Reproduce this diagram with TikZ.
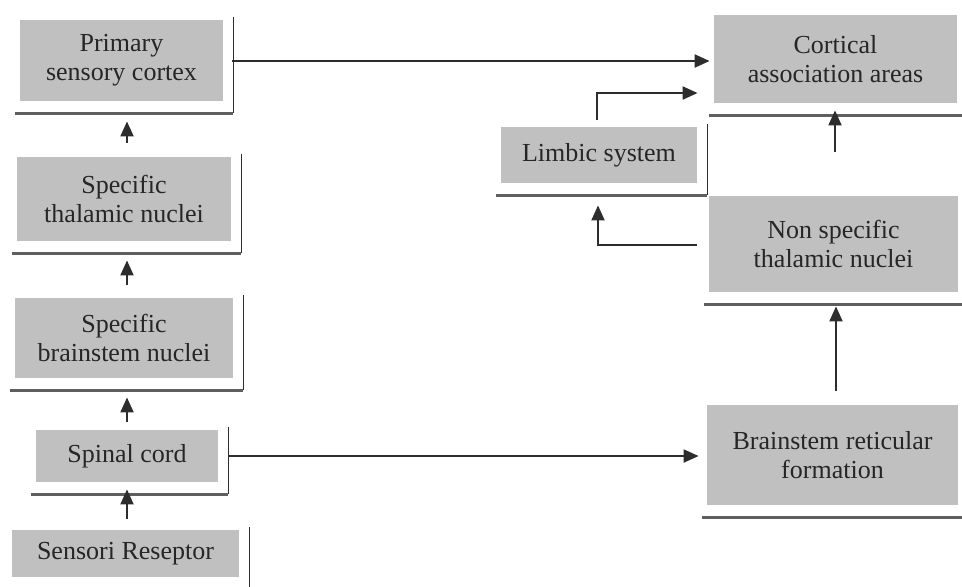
\documentclass[tikz,border=0pt]{standalone}
\usepackage{fontspec}
\setmainfont{Liberation Serif}
\usetikzlibrary{arrows.meta,calc}
\definecolor{boxgray}{RGB}{192,192,192}
\definecolor{linegray}{RGB}{45,45,45}
\definecolor{shadowgray}{RGB}{95,95,95}

\begin{document}
\begin{tikzpicture}[
  x=0.5pt, y=-0.5pt,
  box/.style={fill=boxgray, align=center, inner sep=0pt, font=\fontsize{13}{14.5}\selectfont, text=black!85},
  arrow/.style={-{Triangle[length=7.5pt,width=6.5pt]}, line width=1pt, draw=linegray},
  edge/.style={line width=0.9pt, draw=linegray},
  ledge/.style={line width=1.8pt, draw=shadowgray}
]
\clip (0,0) rectangle (962,586);
\fill[white] (0,0) rectangle (962,586);

% left column
\node[box, minimum width=101.5pt, minimum height=40.5pt] (psc) at (121.5,60.5) {Primary\\sensory cortex};
\node[box, minimum width=107pt, minimum height=42pt] (stn) at (124,199) {Specific\\thalamic nuclei};
\node[box, minimum width=109pt, minimum height=40pt] (sbn) at (124,338) {Specific\\brainstem nuclei};
\node[box, minimum width=91pt, minimum height=26pt] (spc) at (127,456) {Spinal cord};
\node[box, minimum width=113.5pt, minimum height=23.5pt] (sr) at (125.5,553.5) {Sensori Reseptor};

% right column
\node[box, minimum width=121.5pt, minimum height=44pt] (cas) at (835.5,59) {Cortical\\association areas};
\node[box, minimum width=98pt, minimum height=28pt] (lim) at (599,155) {Limbic system};
\node[box, minimum width=124.5pt, minimum height=48pt] (nst) at (833.5,244) {Non specific\\thalamic nuclei};
\node[box, minimum width=125.5pt, minimum height=50pt] (brf) at (832.5,455) {Brainstem reticular\\formation};

% frames
\foreach \n in {psc,stn,sbn,spc,sr,cas,lim,nst,brf}{
  \draw[edge] ($(\n.north east)+(10,-3)$) -- ($(\n.south east)+(10,12)$);
  \draw[ledge] ($(\n.south west)+(-5,12)$) -- ($(\n.south east)+(10,12)$);
}

% connectors
\draw[arrow] ($(stn.north)+(3,-14)$) -- ($(psc.south)+(5.5,20)$);
\draw[arrow] ($(sbn.north)+(3,-13)$) -- ($(stn.south)+(3,19)$);
\draw[arrow] ($(spc.north)+(0,-8)$) -- ($(sbn.south)+(3,19)$);
\draw[arrow] ($(sr.north)+(1.5,-11)$) -- ($(spc.south)+(0,7)$);
\draw[arrow] ($(psc.east)+(9,0.5)$) -- ($(cas.west)+(-4,2)$);
\draw[arrow] ($(spc.east)+(10,0)$) -- ($(brf.west)+(-8,1)$);
\draw[arrow] ($(brf.north)+(3.5,-14)$) -- ($(nst.south)+(2.5,14)$);
\draw[arrow] ($(nst.north)+(1.5,-44)$) -- ($(cas.south)+(-0.5,7)$);
\draw[arrow] ($(lim.north)+(-2,-7)$) |- ($(cas.west)+(-16,34)$);
\draw[arrow] ($(nst.west)+(-12,1)$) -| ($(lim.south)+(-1,22)$);
\end{tikzpicture}
\end{document}
